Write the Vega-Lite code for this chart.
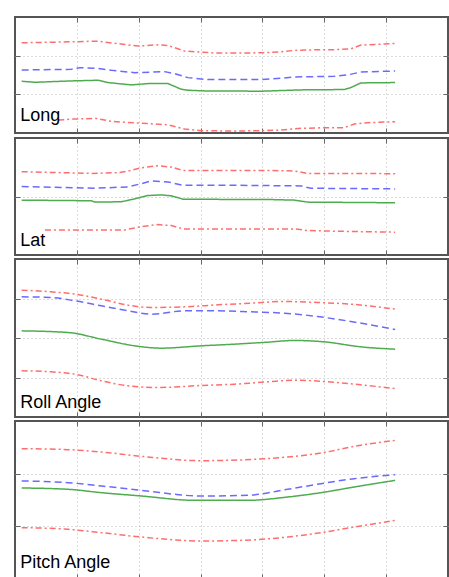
{
  "$schema": "https://vega.github.io/schema/vega-lite/v6.json",
  "background": "white",
  "padding": {"left": 13, "top": 15, "right": 0, "bottom": 0},
  "spacing": 0,
  "config": {
    "view": {"stroke": "#555555", "strokeWidth": 2},
    "axis": {"labels": false, "title": null, "domain": false, "grid": true, "gridColor": "#b8b8b8", "gridDash": [1, 3], "gridWidth": 1, "ticks": true, "tickSize": -5, "tickColor": "#666666", "tickWidth": 1, "minExtent": 0, "maxExtent": 0, "offset": 0},
    "text": {"font": "Liberation Sans", "fontSize": 18, "color": "black", "align": "left", "baseline": "alphabetic"},
    "line": {"strokeWidth": 1.5}
  },
  "datasets": {
    "p1": [
      {"s":"u","x":0.108,"y":2.333},{"s":"u","x":0.914,"y":2.358},{"s":"u","x":1.317,"y":2.376},{"s":"u","x":1.774,"y":2.290},{"s":"u","x":1.989,"y":2.247},{"s":"u","x":2.312,"y":2.281},{"s":"u","x":2.473,"y":2.264},{"s":"u","x":2.742,"y":2.118},{"s":"u","x":3.011,"y":2.093},{"s":"u","x":3.226,"y":2.067},{"s":"u","x":3.548,"y":2.067},{"s":"u","x":4.032,"y":2.075},{"s":"u","x":4.301,"y":2.101},{"s":"u","x":4.516,"y":2.136},{"s":"u","x":4.892,"y":2.153},{"s":"u","x":5.161,"y":2.153},{"s":"u","x":5.430,"y":2.178},{"s":"u","x":5.591,"y":2.273},{"s":"u","x":6.145,"y":2.316},
      {"s":"m","x":0.108,"y":1.630},{"s":"m","x":0.914,"y":1.647},{"s":"m","x":1.048,"y":1.690},{"s":"m","x":1.317,"y":1.672},{"s":"m","x":1.559,"y":1.621},{"s":"m","x":1.935,"y":1.561},{"s":"m","x":2.419,"y":1.587},{"s":"m","x":2.581,"y":1.535},{"s":"m","x":2.796,"y":1.432},{"s":"m","x":3.118,"y":1.381},{"s":"m","x":3.978,"y":1.381},{"s":"m","x":4.301,"y":1.415},{"s":"m","x":4.516,"y":1.449},{"s":"m","x":5.161,"y":1.467},{"s":"m","x":5.376,"y":1.501},{"s":"m","x":5.591,"y":1.578},{"s":"m","x":6.145,"y":1.604},
      {"s":"a","x":0.108,"y":1.338},{"s":"a","x":0.323,"y":1.312},{"s":"a","x":0.914,"y":1.347},{"s":"a","x":1.344,"y":1.364},{"s":"a","x":1.505,"y":1.304},{"s":"a","x":1.882,"y":1.244},{"s":"a","x":2.151,"y":1.278},{"s":"a","x":2.473,"y":1.278},{"s":"a","x":2.688,"y":1.132},{"s":"a","x":2.796,"y":1.106},{"s":"a","x":3.065,"y":1.089},{"s":"a","x":3.978,"y":1.081},{"s":"a","x":4.624,"y":1.115},{"s":"a","x":5.323,"y":1.124},{"s":"a","x":5.430,"y":1.175},{"s":"a","x":5.591,"y":1.295},{"s":"a","x":6.145,"y":1.304},
      {"s":"l","x":0.699,"y":0.334},{"s":"l","x":0.914,"y":0.360},{"s":"l","x":1.317,"y":0.377},{"s":"l","x":1.559,"y":0.300},{"s":"l","x":1.989,"y":0.257},{"s":"l","x":2.473,"y":0.214},{"s":"l","x":2.742,"y":0.103},{"s":"l","x":3.011,"y":0.060},{"s":"l","x":3.548,"y":0.051},{"s":"l","x":3.978,"y":0.060},{"s":"l","x":4.301,"y":0.077},{"s":"l","x":4.624,"y":0.120},{"s":"l","x":5.0,"y":0.137},{"s":"l","x":5.323,"y":0.137},{"s":"l","x":5.484,"y":0.232},{"s":"l","x":5.699,"y":0.266},{"s":"l","x":6.145,"y":0.292}
    ],
    "p2": [
      {"s":"u","x":0.108,"y":1.424},{"s":"u","x":1.237,"y":1.395},{"s":"u","x":1.667,"y":1.407},{"s":"u","x":1.828,"y":1.435},{"s":"u","x":2.043,"y":1.492},{"s":"u","x":2.312,"y":1.525},{"s":"u","x":2.527,"y":1.503},{"s":"u","x":2.715,"y":1.446},{"s":"u","x":3.548,"y":1.446},{"s":"u","x":4.086,"y":1.446},{"s":"u","x":4.516,"y":1.435},{"s":"u","x":4.731,"y":1.395},{"s":"u","x":5.161,"y":1.395},{"s":"u","x":6.145,"y":1.390},
      {"s":"m","x":0.108,"y":1.169},{"s":"m","x":1.290,"y":1.141},{"s":"m","x":1.828,"y":1.164},{"s":"m","x":2.043,"y":1.220},{"s":"m","x":2.204,"y":1.266},{"s":"m","x":2.473,"y":1.249},{"s":"m","x":2.715,"y":1.192},{"s":"m","x":3.548,"y":1.192},{"s":"m","x":4.624,"y":1.181},{"s":"m","x":4.785,"y":1.141},{"s":"m","x":6.145,"y":1.130},
      {"s":"a","x":0.108,"y":0.938},{"s":"a","x":1.237,"y":0.927},{"s":"a","x":1.290,"y":0.904},{"s":"a","x":1.720,"y":0.910},{"s":"a","x":1.935,"y":0.960},{"s":"a","x":2.151,"y":1.017},{"s":"a","x":2.366,"y":1.028},{"s":"a","x":2.527,"y":1.011},{"s":"a","x":2.715,"y":0.955},{"s":"a","x":3.548,"y":0.949},{"s":"a","x":4.086,"y":0.949},{"s":"a","x":4.516,"y":0.938},{"s":"a","x":4.731,"y":0.904},{"s":"a","x":6.145,"y":0.893},
      {"s":"l","x":0.484,"y":0.429},{"s":"l","x":1.774,"y":0.429},{"s":"l","x":2.043,"y":0.486},{"s":"l","x":2.312,"y":0.520},{"s":"l","x":2.527,"y":0.503},{"s":"l","x":2.715,"y":0.446},{"s":"l","x":3.548,"y":0.446},{"s":"l","x":4.516,"y":0.446},{"s":"l","x":4.731,"y":0.418},{"s":"l","x":5.161,"y":0.407},{"s":"l","x":6.145,"y":0.390}
    ],
    "p3": [
      {"s":"u","x":0.108,"y":3.211},{"s":"u","x":0.591,"y":3.169},{"s":"u","x":0.968,"y":3.110},{"s":"u","x":1.398,"y":2.983},{"s":"u","x":1.828,"y":2.831},{"s":"u","x":2.204,"y":2.772},{"s":"u","x":2.742,"y":2.789},{"s":"u","x":3.280,"y":2.840},{"s":"u","x":3.817,"y":2.882},{"s":"u","x":4.355,"y":2.924},{"s":"u","x":4.892,"y":2.899},{"s":"u","x":5.430,"y":2.857},{"s":"u","x":6.145,"y":2.730},
      {"s":"m","x":0.108,"y":3.042},{"s":"m","x":0.591,"y":3.025},{"s":"m","x":0.968,"y":2.941},{"s":"m","x":1.398,"y":2.814},{"s":"m","x":1.828,"y":2.688},{"s":"m","x":2.204,"y":2.603},{"s":"m","x":2.742,"y":2.688},{"s":"m","x":3.280,"y":2.688},{"s":"m","x":3.817,"y":2.662},{"s":"m","x":4.355,"y":2.629},{"s":"m","x":4.892,"y":2.544},{"s":"m","x":5.430,"y":2.418},{"s":"m","x":6.145,"y":2.215},
      {"s":"a","x":0.108,"y":2.181},{"s":"a","x":0.860,"y":2.139},{"s":"a","x":1.398,"y":1.970},{"s":"a","x":1.935,"y":1.802},{"s":"a","x":2.366,"y":1.743},{"s":"a","x":3.011,"y":1.802},{"s":"a","x":3.548,"y":1.844},{"s":"a","x":4.086,"y":1.895},{"s":"a","x":4.516,"y":1.937},{"s":"a","x":5.0,"y":1.903},{"s":"a","x":5.591,"y":1.776},{"s":"a","x":6.145,"y":1.717},
      {"s":"l","x":0.108,"y":1.169},{"s":"l","x":0.591,"y":1.143},{"s":"l","x":0.968,"y":1.084},{"s":"l","x":1.398,"y":0.916},{"s":"l","x":1.828,"y":0.789},{"s":"l","x":2.312,"y":0.747},{"s":"l","x":3.011,"y":0.797},{"s":"l","x":3.548,"y":0.831},{"s":"l","x":4.086,"y":0.890},{"s":"l","x":4.516,"y":0.932},{"s":"l","x":5.0,"y":0.899},{"s":"l","x":5.591,"y":0.814},{"s":"l","x":6.145,"y":0.722}
    ],
    "p4": [
      {"s":"u","x":0.108,"y":2.475},{"s":"u","x":0.860,"y":2.456},{"s":"u","x":1.398,"y":2.411},{"s":"u","x":2.043,"y":2.329},{"s":"u","x":3.011,"y":2.247},{"s":"u","x":3.871,"y":2.272},{"s":"u","x":4.409,"y":2.316},{"s":"u","x":4.946,"y":2.392},{"s":"u","x":5.484,"y":2.519},{"s":"u","x":6.145,"y":2.633},
      {"s":"m","x":0.108,"y":1.861},{"s":"m","x":0.860,"y":1.829},{"s":"m","x":1.398,"y":1.766},{"s":"m","x":2.043,"y":1.684},{"s":"m","x":3.011,"y":1.576},{"s":"m","x":3.763,"y":1.589},{"s":"m","x":4.409,"y":1.703},{"s":"m","x":4.946,"y":1.810},{"s":"m","x":5.484,"y":1.905},{"s":"m","x":6.145,"y":1.981},
      {"s":"a","x":0.108,"y":1.728},{"s":"a","x":0.860,"y":1.703},{"s":"a","x":1.398,"y":1.639},{"s":"a","x":2.043,"y":1.576},{"s":"a","x":2.903,"y":1.494},{"s":"a","x":3.763,"y":1.494},{"s":"a","x":4.409,"y":1.557},{"s":"a","x":4.946,"y":1.639},{"s":"a","x":5.484,"y":1.747},{"s":"a","x":6.145,"y":1.873},
      {"s":"l","x":0.108,"y":0.975},{"s":"l","x":0.860,"y":0.943},{"s":"l","x":1.398,"y":0.880},{"s":"l","x":2.043,"y":0.797},{"s":"l","x":3.011,"y":0.722},{"s":"l","x":3.656,"y":0.734},{"s":"l","x":4.409,"y":0.797},{"s":"l","x":4.946,"y":0.880},{"s":"l","x":5.484,"y":0.987},{"s":"l","x":6.145,"y":1.114}
    ]
  },
  "vconcat": [
    {
      "width": 433, "height": 116,
      "layer": [
        {"data": {"name": "p1"}, "mark": {"type": "line"},
         "encoding": {
           "x": {"field": "x", "type": "quantitative", "scale": {"domain": [0, 7], "nice": false, "zero": false}, "axis": {"values": [1, 2, 3, 4, 5, 6]}},
           "y": {"field": "y", "type": "quantitative", "scale": {"domain": [0, 3], "nice": false}, "axis": {"values": [1, 2]}},
           "detail": {"field": "s"},
           "color": {"field": "s", "type": "nominal", "scale": {"domain": ["u", "m", "a", "l"], "range": ["#ff6e6e", "#6a6aff", "#4fab4f", "#ff6e6e"]}, "legend": null},
           "strokeDash": {"field": "s", "type": "nominal", "scale": {"domain": ["u", "m", "a", "l"], "range": [[6, 3, 2, 3], [7, 4], [1, 0], [6, 3, 2, 3]]}, "legend": null}
         }},
        {"data": {"values": [{"label": "Long"}]}, "mark": {"type": "text"},
         "encoding": {
           "x": {"datum": 0.085, "type": "quantitative", "axis": {"orient": "top", "grid": false, "values": [1, 2, 3, 4, 5, 6]}},
           "y": {"datum": 0.31, "type": "quantitative", "axis": {"orient": "right", "grid": false, "values": [1, 2]}},
           "text": {"field": "label"}
         }}
      ],
      "resolve": {"axis": {"x": "independent", "y": "independent"}}
    },
    {
      "width": 433, "height": 117,
      "layer": [
        {"data": {"name": "p2"}, "mark": {"type": "line"},
         "encoding": {
           "x": {"field": "x", "type": "quantitative", "scale": {"domain": [0, 7], "nice": false, "zero": false}, "axis": {"values": [1, 2, 3, 4, 5, 6]}},
           "y": {"field": "y", "type": "quantitative", "scale": {"domain": [0, 2], "nice": false}, "axis": {"values": [1]}},
           "detail": {"field": "s"},
           "color": {"field": "s", "type": "nominal", "scale": {"domain": ["u", "m", "a", "l"], "range": ["#ff6e6e", "#6a6aff", "#4fab4f", "#ff6e6e"]}, "legend": null},
           "strokeDash": {"field": "s", "type": "nominal", "scale": {"domain": ["u", "m", "a", "l"], "range": [[6, 3, 2, 3], [7, 4], [1, 0], [6, 3, 2, 3]]}, "legend": null}
         }},
        {"data": {"values": [{"label": "Lat"}]}, "mark": {"type": "text"},
         "encoding": {
           "x": {"datum": 0.085, "type": "quantitative", "axis": {"orient": "top", "grid": false, "values": [1, 2, 3, 4, 5, 6]}},
           "y": {"datum": 0.146, "type": "quantitative", "axis": {"orient": "right", "grid": false, "values": [1]}},
           "text": {"field": "label"}
         }}
      ],
      "resolve": {"axis": {"x": "independent", "y": "independent"}}
    },
    {
      "width": 433, "height": 158,
      "layer": [
        {"data": {"name": "p3"}, "mark": {"type": "line", "interpolate": "monotone"},
         "encoding": {
           "x": {"field": "x", "type": "quantitative", "scale": {"domain": [0, 7], "nice": false, "zero": false}, "axis": {"values": [1, 2, 3, 4, 5, 6]}},
           "y": {"field": "y", "type": "quantitative", "scale": {"domain": [0, 4], "nice": false}, "axis": {"values": [1, 2, 3]}},
           "detail": {"field": "s"},
           "color": {"field": "s", "type": "nominal", "scale": {"domain": ["u", "m", "a", "l"], "range": ["#ff6e6e", "#6a6aff", "#4fab4f", "#ff6e6e"]}, "legend": null},
           "strokeDash": {"field": "s", "type": "nominal", "scale": {"domain": ["u", "m", "a", "l"], "range": [[6, 3, 2, 3], [7, 4], [1, 0], [6, 3, 2, 3]]}, "legend": null}
         }},
        {"data": {"values": [{"label": "Roll Angle"}]}, "mark": {"type": "text"},
         "encoding": {
           "x": {"datum": 0.085, "type": "quantitative", "axis": {"orient": "top", "grid": false, "values": [1, 2, 3, 4, 5, 6]}},
           "y": {"datum": 0.225, "type": "quantitative", "axis": {"orient": "right", "grid": false, "values": [1, 2, 3]}},
           "text": {"field": "label"}
         }}
      ],
      "resolve": {"axis": {"x": "independent", "y": "independent"}}
    },
    {
      "width": 433, "height": 158,
      "layer": [
        {"data": {"name": "p4"}, "mark": {"type": "line", "interpolate": "monotone"},
         "encoding": {
           "x": {"field": "x", "type": "quantitative", "scale": {"domain": [0, 7], "nice": false, "zero": false}, "axis": {"values": [1, 2, 3, 4, 5, 6]}},
           "y": {"field": "y", "type": "quantitative", "scale": {"domain": [0, 3], "nice": false}, "axis": {"values": [1, 2]}},
           "detail": {"field": "s"},
           "color": {"field": "s", "type": "nominal", "scale": {"domain": ["u", "m", "a", "l"], "range": ["#ff6e6e", "#6a6aff", "#4fab4f", "#ff6e6e"]}, "legend": null},
           "strokeDash": {"field": "s", "type": "nominal", "scale": {"domain": ["u", "m", "a", "l"], "range": [[6, 3, 2, 3], [7, 4], [1, 0], [6, 3, 2, 3]]}, "legend": null}
         }},
        {"data": {"values": [{"label": "Pitch Angle"}]}, "mark": {"type": "text"},
         "encoding": {
           "x": {"datum": 0.085, "type": "quantitative", "axis": {"orient": "top", "grid": false, "values": [1, 2, 3, 4, 5, 6]}},
           "y": {"datum": 0.2, "type": "quantitative", "axis": {"orient": "right", "grid": false, "values": [1, 2]}},
           "text": {"field": "label"}
         }}
      ],
      "resolve": {"axis": {"x": "independent", "y": "independent"}}
    }
  ]
}
